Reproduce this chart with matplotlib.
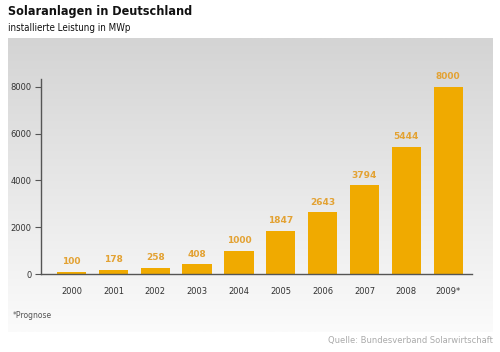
import matplotlib.pyplot as plt
import numpy as np
from matplotlib.colors import LinearSegmentedColormap

# data
years = ['2000', '2001', '2002', '2003', '2004', '2005', '2006', '2007', '2008', '2009*']
leistung = [100, 178, 258, 408, 1000, 1847, 2643, 3794, 5444, 8000]
yticks = [0, 2000, 4000, 6000, 8000]

bar_color = '#f0aa00'
label_color = '#e3a233'

fig = plt.figure(figsize=(5, 3.52), dpi=100)

# grey gradient panel behind the chart
bg = fig.add_axes([8 / 500, 1 - 332 / 352, 485 / 500, 294 / 352])
grad = np.linspace(0, 1, 256).reshape(-1, 1)
bg.imshow(grad, aspect='auto', extent=[0, 1, 0, 1],
          cmap=LinearSegmentedColormap.from_list('g', ['#d4d4d4', '#fbfbfb']))
bg.axis('off')

ax = fig.add_axes([41 / 500, 1 - 274 / 352, 431 / 500, 195 / 352])
ax.patch.set_alpha(0)
x = np.arange(len(years))
ax.bar(x, leistung, width=0.7, color=bar_color)

# value labels above bars
for xi, v in zip(x, leistung):
    ax.annotate(str(v), (xi, v), xytext=(0, 4), textcoords='offset points',
                ha='center', va='bottom', fontsize=6.5, fontweight='bold', color=label_color)

ax.set_xlim(-0.73, 9.57)
ax.set_ylim(0, 8330)
ax.set_xticks(x)
ax.set_xticklabels(years, fontsize=6, color='#333333')
ax.set_yticks(yticks)
ax.set_yticklabels([str(t) for t in yticks], fontsize=6, color='#333333')
ax.tick_params(axis='x', length=0, pad=9)
ax.tick_params(axis='y', length=4, width=0.8, color='#555555', pad=3)
for s in ['top', 'right']:
    ax.spines[s].set_visible(False)
for s in ['left', 'bottom']:
    ax.spines[s].set_color('#555555')
    ax.spines[s].set_linewidth(1)

fig.text(8 / 500, 1 - 12 / 352, 'Solaranlagen in Deutschland', fontsize=9, fontweight='bold',
         stretch='condensed', va='center', color='#111111')
fig.text(8 / 500, 1 - 28 / 352, 'installierte Leistung in MWp', fontsize=7,
         stretch='condensed', va='center', color='#111111')
fig.text(13 / 500, 1 - 316 / 352, '*Prognose', fontsize=5.5, color='#555555', va='center')
fig.text(493 / 500, 1 - 341 / 352, 'Quelle: Bundesverband Solarwirtschaft', fontsize=6,
         color='#aaaaaa', ha='right', va='center')

fig.savefig('out.png', dpi=100)
